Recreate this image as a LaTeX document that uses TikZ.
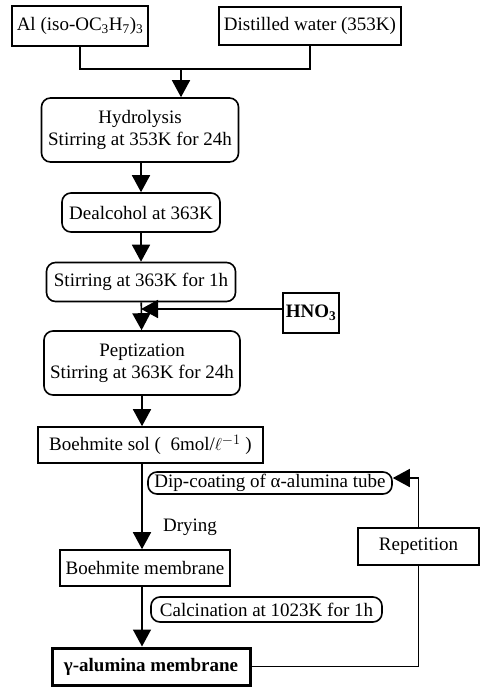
\documentclass[tikz,border=0pt]{standalone}
\usepackage{fontspec}
\setmainfont{Liberation Serif}
\usetikzlibrary{arrows.meta}
\tikzset{
    stepbox/.style={draw, line width=1.6pt, inner sep=0pt, align=center, font=\fontsize{19}{22}\selectfont},
    roundbox/.style={stepbox, rounded corners=9pt},
    arr/.style={line width=1.6pt, -{Triangle[width=18pt,length=17pt]}},
    link/.style={line width=1.6pt}
}
\begin{document}
\begin{tikzpicture}[x=1pt, y=-1pt]
    \useasboundingbox (0,0) rectangle (487,688);

    % starting materials
    \node[stepbox, minimum width=136pt, minimum height=40pt] (al) at (80,26) {Al (iso-OC\textsubscript{3}H\textsubscript{7})\textsubscript{3}};
    \node[stepbox, minimum width=182pt, minimum height=38pt] (water) at (310,26) {Distilled water (353K)};
    \coordinate (merge) at (181,69);

    % sol preparation
    \node[roundbox, minimum width=197pt, minimum height=64pt] (hydro) at (140,130) {Hydrolysis\\Stirring at 353K for 24h};
    \node[roundbox, minimum width=158pt, minimum height=39pt] (dealc) at (141,212.5) {Dealcohol at 363K};
    \node[roundbox, minimum width=189pt, minimum height=39pt] (stir) at (141,282) {Stirring at 363K for 1h};
    \node[stepbox, minimum width=56pt, minimum height=40pt, font=\fontsize{19}{22}\selectfont\bfseries] (hno) at (311,313) {HNO\textsubscript{3}};
    \node[roundbox, minimum width=196pt, minimum height=64pt] (pept) at (142,363) {Peptization\\Stirring at 363K for 24h};
    \node[stepbox, minimum width=225pt, minimum height=36pt] (sol) at (150.5,445) {Boehmite sol (\ \ 6mol/$\ell^{-1}$ )};

    % membrane
    \node[roundbox, minimum width=244pt, minimum height=22pt] (dip) at (270,483) {Dip-coating of α-alumina tube};
    \node[font=\fontsize{19}{22}\selectfont] (dry) at (190,527) {Drying};
    \node[stepbox, line width=1.2pt, minimum width=121pt, minimum height=37pt] (rep) at (418.5,546.5) {Repetition};
    \node[stepbox, minimum width=170pt, minimum height=36pt] (bmem) at (145,568) {Boehmite membrane};
    \node[roundbox, minimum width=231pt, minimum height=25pt] (calc) at (266.5,609.5) {Calcination at 1023K for 1h};
    \node[stepbox, line width=3pt, minimum width=198pt, minimum height=37pt, font=\fontsize{19}{22}\selectfont\bfseries] (gamma) at (151,666.5) {γ-alumina membrane};

    % connectors
    \draw[link] (al.south) |- (merge) -| (water.south);
    \draw[arr] (merge) -- (hydro.north -| merge);
    \draw[arr] (hydro.south -| dealc) -- (dealc.north);
    \draw[arr] (dealc) -- (stir);
    \draw[arr] (stir) -- (pept);
    \draw[arr] ([yshift=4pt]hno.west) -- ([yshift=4pt]hno.west -| stir.south);
    \draw[arr] (pept.south) -- (sol.north -| pept.south);
    \draw[arr] (sol.south -| pept.south) -- (bmem.north -| pept.south);
    \draw[arr] (bmem.south -| pept.south) -- (gamma.north -| pept.south);
    \draw[link] (gamma.east) -| (rep.south);
    \draw[arr] (rep.north) |- ([yshift=5pt]dip.east);
\end{tikzpicture}
\end{document}
